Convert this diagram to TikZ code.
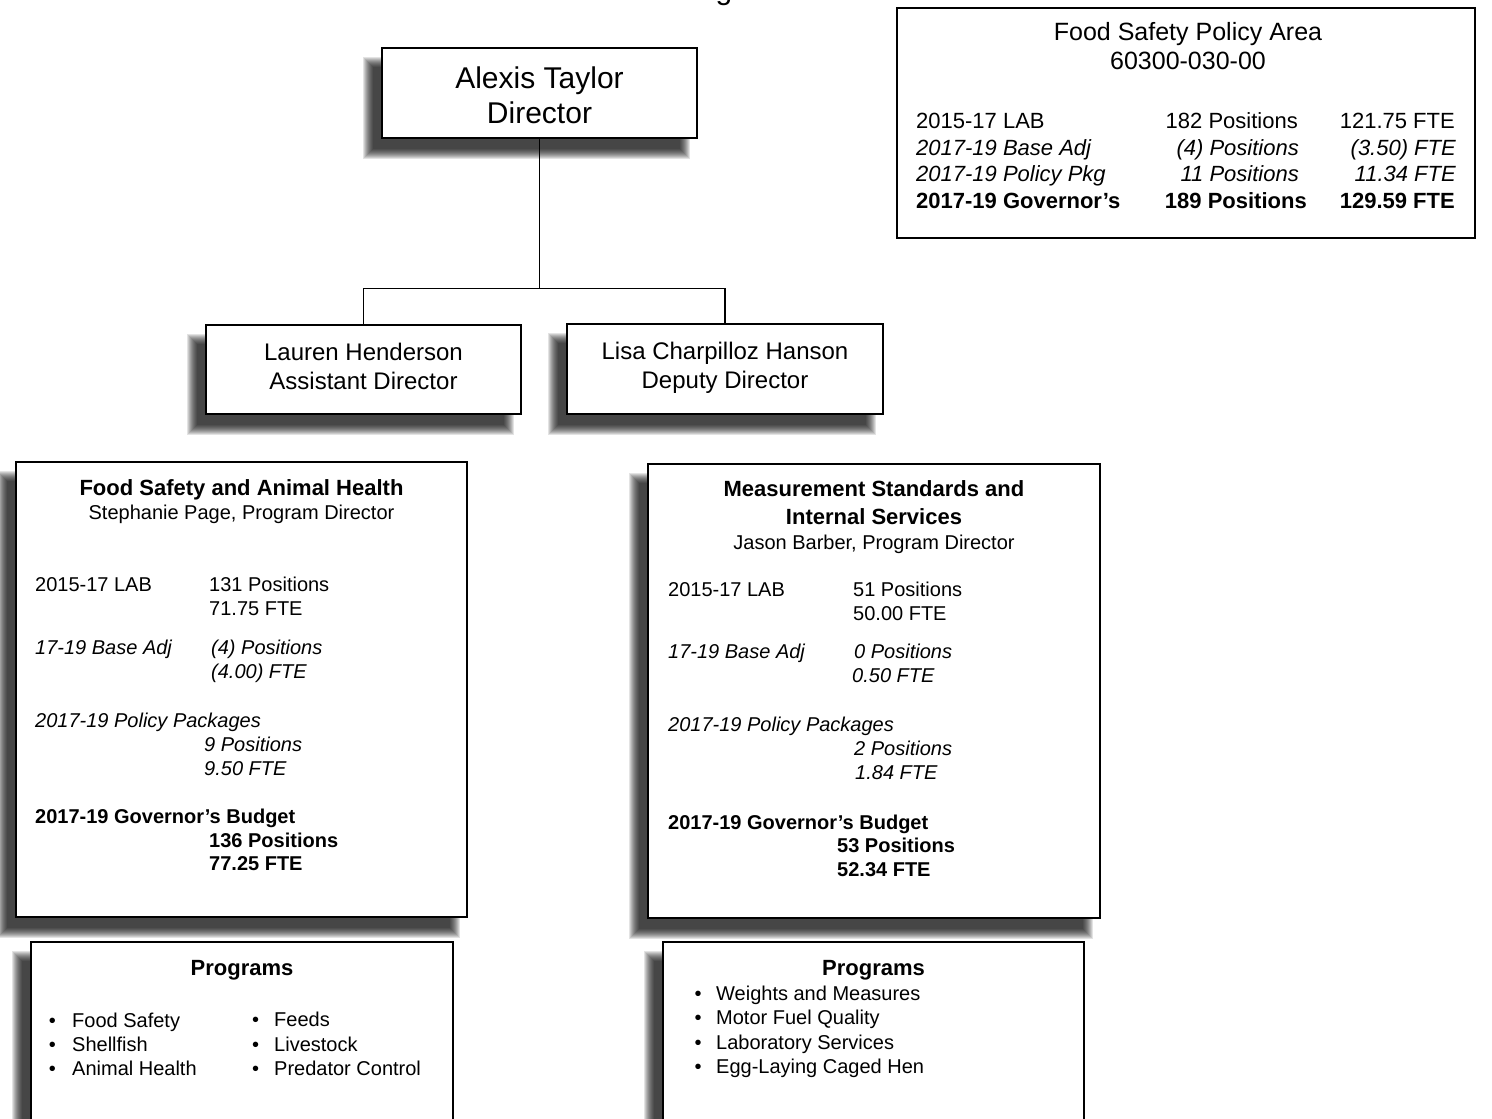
\documentclass[tikz,border=0pt]{standalone}
\usepackage{fontspec}
\setmainfont{Liberation Sans}
\usetikzlibrary{calc,backgrounds}
\newcommand\dropshade[1]{%
  \foreach \e in {5,4,3,2,1,0,-1,-2,-3,-4,-5}{%
    \pgfmathsetmacro\xa{-13-(\e)}\pgfmathsetmacro\ya{15-(\e)}%
    \pgfmathsetmacro\xb{-13+(\e)}\pgfmathsetmacro\yb{15+(\e)}%
    \fill[black, opacity=0.11] ($(#1.north west)+(\xa,\ya)$) rectangle ($(#1.south east)+(\xb,\yb)$);}}
\begin{document}
\begin{tikzpicture}[x=1pt,y=-1pt,
  box/.style={draw=black, line width=1.6pt, fill=white, rectangle, inner sep=0pt},
  conn/.style={draw=black, line width=1.3pt},
  body/.style={inner sep=0pt, font=\fontsize{20}{24}\selectfont},
  bodyit/.style={inner sep=0pt, font=\fontsize{20}{24}\selectfont\itshape},
  bodybf/.style={inner sep=0pt, font=\fontsize{20}{24}\selectfont\bfseries},
  ttl/.style={inner sep=0pt, font=\fontsize{22}{27}\selectfont\bfseries},
  pa/.style={inner sep=0pt, font=\fontsize{22}{27}\selectfont},
  pait/.style={inner sep=0pt, font=\fontsize{22}{27}\selectfont\itshape},
  pabf/.style={inner sep=0pt, font=\fontsize{22}{27}\selectfont\bfseries}]
\useasboundingbox (0,0) rectangle (1492,1119);
\clip (0,0) rectangle (1492,1119);

% cut-off title glyph
\node[inner sep=0pt, font=\fontsize{30}{35}\selectfont, anchor=base] (ttlg) at (724,-1) {g};

% director boxes
\node[box, minimum width=315pt, minimum height=90pt] (dir) at (539.5,93) {};
\node[inner sep=0pt, align=center, font=\fontsize{30}{35}\selectfont] (dirt) at (539.5,95) {Alexis Taylor\\Director};
\node[box, minimum width=315pt, minimum height=89pt] (ad) at (363.5,369.5) {};
\node[inner sep=0pt, align=center, font=\fontsize{24}{29}\selectfont] (adt) at (363.5,366.5) {Lauren Henderson\\Assistant Director};
\node[box, minimum width=316pt, minimum height=90pt] (dd) at (725,369) {};
\node[inner sep=0pt, align=center, font=\fontsize{24}{29}\selectfont] (ddt) at (725,368) {Lisa Charpilloz Hanson\\Deputy Director};

\draw[conn] (dir.south) -- ++(0,150) -| (ad.north);
\draw[conn] (dir.south) -- ++(0,150) -| (dd.north);

% policy area box
\node[box, line width=1.3pt, minimum width=578pt, minimum height=230pt] (pab) at (1186,123) {};
\node[inner sep=0pt, font=\fontsize{25}{30}\selectfont, anchor=base] (pat1) at (1188,40) {Food Safety Policy Area};
\node[inner sep=0pt, font=\fontsize{25}{30}\selectfont, anchor=base] (pat2) at (1188,69) {60300-030-00};
\node[pa, anchor=base west] (pr1a) at (916,128) {2015-17 LAB};
\node[pa, anchor=base east] (pr1b) at (1298,128) {182 Positions};
\node[pa, anchor=base east] (pr1c) at (1455,128) {121.75 FTE};
\node[pait, anchor=base west] (pr2a) at (916,155) {2017-19 Base Adj};
\node[pait, anchor=base east] (pr2b) at (1299,155) {(4) Positions};
\node[pait, anchor=base east] (pr2c) at (1456,155) {(3.50) FTE};
\node[pait, anchor=base west] (pr3a) at (916,181) {2017-19 Policy Pkg};
\node[pait, anchor=base east] (pr3b) at (1299,181) {11 Positions};
\node[pait, anchor=base east] (pr3c) at (1456,181) {11.34 FTE};
\node[pabf, anchor=base west] (pr4a) at (916,208) {2017-19 Governor’s};
\node[pabf, anchor=base east] (pr4b) at (1307,208) {189 Positions};
\node[pabf, anchor=base east] (pr4c) at (1455,208) {129.59 FTE};

% Food Safety and Animal Health
\node[box, minimum width=451pt, minimum height=455pt] (fs) at (241.5,689.5) {};
\node[ttl, anchor=base] (fst) at (241.5,495) {Food Safety and Animal Health};
\node[body, anchor=base] (fsd) at (241.5,519) {Stephanie Page, Program Director};
\node[body, anchor=base west] (fs1a) at (35,591) {2015-17 LAB};
\node[body, anchor=base west] (fs1b) at (209,591) {131 Positions};
\node[body, anchor=base west] (fs1c) at (209,615) {71.75 FTE};
\node[bodyit, anchor=base west] (fs2a) at (35,654) {17-19 Base Adj};
\node[bodyit, anchor=base west] (fs2b) at (211,654) {(4) Positions};
\node[bodyit, anchor=base west] (fs2c) at (211,678) {(4.00) FTE};
\node[bodyit, anchor=base west] (fs3a) at (35,727) {2017-19 Policy Packages};
\node[bodyit, anchor=base west] (fs3b) at (204,751) {9 Positions};
\node[bodyit, anchor=base west] (fs3c) at (204,775) {9.50 FTE};
\node[bodybf, anchor=base west] (fs4a) at (35,823) {2017-19 Governor’s Budget};
\node[bodybf, anchor=base west] (fs4b) at (209,847) {136 Positions};
\node[bodybf, anchor=base west] (fs4c) at (209,870) {77.25 FTE};

% Measurement Standards and Internal Services
\node[box, minimum width=452pt, minimum height=454pt] (ms) at (874,691) {};
\node[ttl, anchor=base] (mst1) at (874,496) {Measurement Standards and};
\node[ttl, anchor=base] (mst2) at (874,524) {Internal Services};
\node[body, anchor=base] (msd) at (874,549) {Jason Barber, Program Director};
\node[body, anchor=base west] (ms1a) at (668,596) {2015-17 LAB};
\node[body, anchor=base west] (ms1b) at (853,596) {51 Positions};
\node[body, anchor=base west] (ms1c) at (853,620) {50.00 FTE};
\node[bodyit, anchor=base west] (ms2a) at (668,658) {17-19 Base Adj};
\node[bodyit, anchor=base west] (ms2b) at (854,658) {0 Positions};
\node[bodyit, anchor=base west] (ms2c) at (852,682) {0.50 FTE};
\node[bodyit, anchor=base west] (ms3a) at (668,731) {2017-19 Policy Packages};
\node[bodyit, anchor=base west] (ms3b) at (854,755) {2 Positions};
\node[bodyit, anchor=base west] (ms3c) at (855,779) {1.84 FTE};
\node[bodybf, anchor=base west] (ms4a) at (668,829) {2017-19 Governor’s Budget};
\node[bodybf, anchor=base west] (ms4b) at (837,852) {53 Positions};
\node[bodybf, anchor=base west] (ms4c) at (837,876) {52.34 FTE};

% Programs boxes
\node[box, minimum width=422pt, minimum height=208pt] (pl) at (242,1046) {};
\node[ttl, anchor=base] (plt) at (242,975) {Programs};
\node[body, anchor=base] (plb1) at (52.5,1027) {•};
\node[body, anchor=base west] (pli1) at (72,1027) {Food Safety};
\node[body, anchor=base] (plb2) at (52.5,1051) {•};
\node[body, anchor=base west] (pli2) at (72,1051) {Shellfish};
\node[body, anchor=base] (plb3) at (52.5,1075) {•};
\node[body, anchor=base west] (pli3) at (72,1075) {Animal Health};
\node[body, anchor=base] (plb4) at (255.5,1026) {•};
\node[body, anchor=base west] (pli4) at (274,1026) {Feeds};
\node[body, anchor=base] (plb5) at (255.5,1051) {•};
\node[body, anchor=base west] (pli5) at (274,1051) {Livestock};
\node[body, anchor=base] (plb6) at (255.5,1075) {•};
\node[body, anchor=base west] (pli6) at (274,1075) {Predator Control};

\node[box, minimum width=421pt, minimum height=208pt] (prg) at (873.5,1046) {};
\node[ttl, anchor=base] (prt) at (873.5,975) {Programs};
\node[body, anchor=base] (prb1) at (698,1000) {•};
\node[body, anchor=base west] (pri1) at (716,1000) {Weights and Measures};
\node[body, anchor=base] (prb2) at (698,1024) {•};
\node[body, anchor=base west] (pri2) at (716,1024) {Motor Fuel Quality};
\node[body, anchor=base] (prb3) at (698,1049) {•};
\node[body, anchor=base west] (pri3) at (716,1049) {Laboratory Services};
\node[body, anchor=base] (prb4) at (698,1073) {•};
\node[body, anchor=base west] (pri4) at (716,1073) {Egg-Laying Caged Hen};

% drop shadows
\begin{scope}[on background layer]
\clip (0,0) rectangle (1492,1119);
\dropshade{dir}
\dropshade{ad}
\dropshade{dd}
\dropshade{fs}
\dropshade{ms}
\dropshade{pl}
\dropshade{prg}
\end{scope}
\end{tikzpicture}
\end{document}
